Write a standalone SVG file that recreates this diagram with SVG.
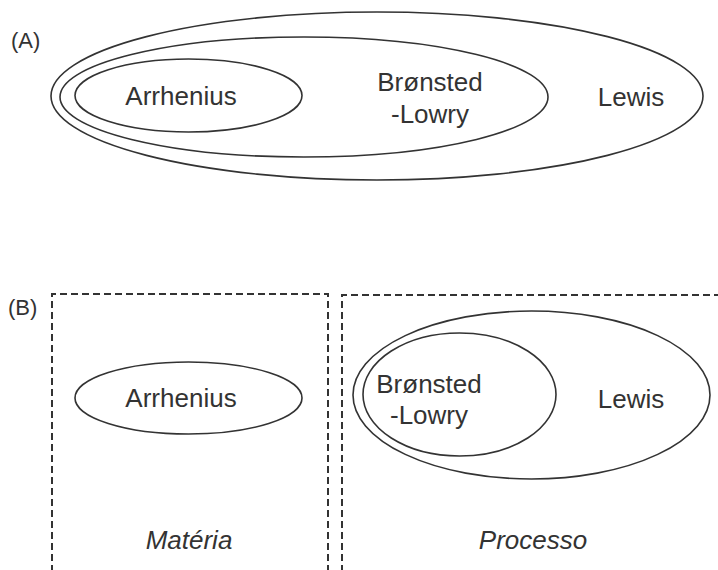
<svg xmlns="http://www.w3.org/2000/svg" width="718" height="570" viewBox="0 0 718 570">
<style>
.e{fill:none;stroke:#333;stroke-width:1.6}
.d{fill:none;stroke:#333;stroke-width:2;stroke-dasharray:7,4}
.t{font-family:"Liberation Sans",Arial,sans-serif;font-size:26px;fill:#333;text-anchor:middle}
.l{font-family:"Liberation Sans",Arial,sans-serif;font-size:22px;fill:#333}
.i{font-style:italic}
</style>
<rect width="718" height="570" fill="#fff"/>
<text class="l" x="11" y="48">(A)</text>
<g id="A-lewis"><ellipse class="e" cx="377" cy="96" rx="326" ry="84"/><text class="t" x="631" y="106">Lewis</text></g>
<g id="A-bronsted"><ellipse class="e" cx="304" cy="97" rx="244" ry="60"/><text class="t" x="430" y="91">Brønsted</text><text class="t" x="430" y="123">-Lowry</text></g>
<g id="A-arrhenius"><ellipse class="e" cx="188.5" cy="95.5" rx="113.5" ry="36.5"/><text class="t" x="181" y="105">Arrhenius</text></g>
<text class="l" x="8" y="315">(B)</text>
<g id="materia"><path class="d" d="M52,572 V294 H328 V572"/><text class="t i" x="189" y="549">Matéria</text></g>
<g id="processo"><path class="d" d="M342,572 V295 H720"/><text class="t i" x="533" y="549">Processo</text></g>
<g id="B-arrhenius"><ellipse class="e" cx="188.5" cy="398" rx="113.5" ry="36"/><text class="t" x="181" y="407">Arrhenius</text></g>
<g id="B-lewis"><ellipse class="e" cx="531.5" cy="395" rx="178.5" ry="84"/><text class="t" x="631" y="408">Lewis</text></g>
<g id="B-bronsted"><ellipse class="e" cx="459.5" cy="394.5" rx="96.5" ry="61.5"/><text class="t" x="429" y="393">Brønsted</text><text class="t" x="429" y="424">-Lowry</text></g>
<g id="connectors"/>
</svg>
